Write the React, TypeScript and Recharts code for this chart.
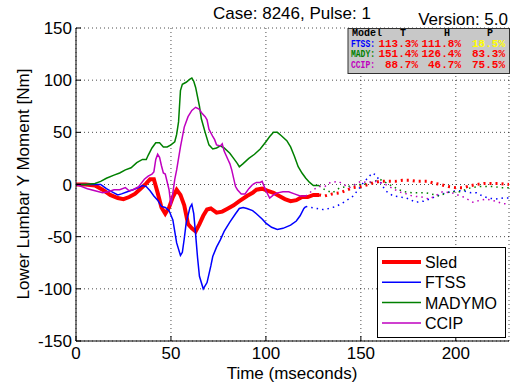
import React from 'react';
import { LineChart, Line, XAxis, YAxis, CartesianGrid } from 'recharts';

// time (ms), moment (Nm); solid = measured window, dotted = tail
const sledSolid: [number, number][] = [
  [0, 0], [5, 0], [10, -1], [14, -5], [18, -10], [22, -13], [25, -14], [28, -12], [31, -9], [34, -4],
  [37, 1], [39, 5], [41, 5], [43, -8], [45, -22], [47, -28], [49, -22], [51, -12], [53, -5], [55, -10],
  [57, -20], [59, -38], [61, -42], [63, -45], [65, -38], [67, -30], [69, -24], [71, -23], [74, -27],
  [77, -26], [80, -23], [83, -20], [86, -16], [90, -11], [93, -8], [95, -5], [98, -4], [101, -6],
  [104, -8], [107, -11], [110, -14], [113, -16], [116, -15], [119, -12], [122, -12], [125, -10], [128, -10],
];
const sledDotted: [number, number][] = [
  [128, -10], [131, -11], [135, -9], [139, -8], [143, -5], [146, -3], [150, -2], [154, 0], [157, 2],
  [160, 3], [164, 3], [168, 3], [172, 4], [176, 4], [180, 3], [185, 3], [189, 1], [192, 0], [196, -2],
  [200, -3], [204, -3], [208, -1], [211, 0], [215, 1], [219, 1], [223, 1], [228, 0],
];

const ftssSolid: [number, number][] = [
  [0, 0], [5, 0], [10, 0], [13, 0], [16, -4], [19, -7], [22, -10], [24, -9], [27, -7], [30, -5],
  [33, -3], [35, -1], [37, -2], [39, -6], [41, -11], [43, -15], [45, -21], [47, -22], [49, -25],
  [51, -34], [53, -56], [55, -68], [56, -65], [57, -52], [58, -37], [60, -22], [61, -19], [62, -28],
  [63, -48], [64, -70], [65, -88], [67, -100], [69, -94], [71, -78], [72, -69], [74, -60], [76, -53],
  [78, -45], [81, -36], [84, -28], [86, -23], [88, -22], [90, -23], [93, -25], [95, -28], [98, -33],
  [100, -37], [103, -41], [106, -43], [109, -42], [113, -39], [116, -35], [118, -30], [120, -23], [121, -21],
];
const ftssDotted: [number, number][] = [
  [121, -21], [124, -22], [127, -23], [130, -24], [133, -23], [137, -21], [141, -17], [146, -11],
  [149, -4], [151, 1], [154, 7], [156, 11], [158, 9], [160, 3], [163, -6], [167, -11], [171, -12],
  [174, -13], [179, -17], [183, -16], [186, -14], [190, -11], [193, -9], [197, -7], [200, -6],
  [204, -6], [208, -8], [211, -8], [214, -11], [217, -13], [221, -14], [225, -13], [228, -13],
];

const madySolid: [number, number][] = [
  [0, 0], [5, 0], [10, 1], [13, 3], [16, 6], [20, 9], [23, 11], [26, 14], [29, 16], [32, 21],
  [35, 24], [37, 24], [38, 28], [40, 35], [42, 40], [44, 40], [46, 36], [48, 36], [50, 38], [52, 41],
  [53, 48], [54, 60], [55, 90], [56, 96], [58, 98], [60, 101], [61, 102], [62, 99], [63, 93], [65, 75],
  [66, 63], [68, 50], [70, 38], [72, 34], [74, 35], [76, 37], [78, 35], [81, 30], [83, 25], [85, 20],
  [86, 17], [88, 20], [91, 25], [94, 29], [97, 34], [100, 41], [102, 46], [104, 50], [106, 50],
  [108, 47], [111, 42], [113, 36], [115, 27], [117, 17], [119, 11], [121, 6], [123, 2], [125, -1], [128, -1],
];
const madyDotted: [number, number][] = [
  [128, -1], [131, -5], [135, -8], [139, -3], [143, -2], [147, 0], [151, 0], [155, 2], [160, 5],
  [164, 1], [167, -2], [170, -5], [173, -7], [177, -8], [180, -8], [184, -8], [187, -9], [191, -11],
  [194, -9], [197, -7], [202, -7], [205, -5], [208, -3], [212, -2], [216, -2], [220, -2], [224, -3], [228, -3],
];

const ccipSolid: [number, number][] = [
  [0, 0], [3, -2], [6, -4], [10, -6], [14, -8], [17, -7], [20, -5], [23, -5], [26, -3], [28, -6],
  [30, -5], [33, -2], [36, 5], [38, 8], [40, 10], [41, 12], [42, 24], [43, 29], [44, 26], [45, 18],
  [46, 11], [47, 10], [49, -5], [50, -20], [51, -8], [52, 5], [53, 14], [55, 36], [57, 55], [59, 65],
  [61, 71], [63, 74], [65, 72], [66, 69], [68, 65], [69, 62], [70, 53], [72, 46], [73, 43], [74, 38],
  [76, 37], [77, 39], [78, 32], [80, 24], [81, 20], [82, 14], [84, -2], [85, -5], [87, -9], [89, -9],
  [91, -4], [93, 0], [95, 2], [97, 2], [98, 3], [100, -6], [102, -13], [104, -10], [106, -8], [109, -7],
  [112, -7], [115, -9], [118, -11], [121, -11],
];
const ccipDotted: [number, number][] = [
  [121, -11], [125, -5], [128, -2], [131, -2], [134, 2], [138, 3], [141, 0], [144, -3], [147, 0],
  [150, 3], [153, 2], [158, 3], [162, 1], [165, -2], [170, -7], [174, -9], [177, -11], [182, -12],
  [186, -14], [190, -10], [193, -7], [198, -8], [201, -10], [204, -12], [207, -15], [209, -17],
  [213, -15], [216, -14], [221, -16], [224, -18], [228, -19],
];

const xTicks = [0, 50, 100, 150, 200];
const yTicks = [-150, -100, -50, 0, 50, 100, 150];

// score table
const tableModels = ['FTSS', 'MADY', 'CCIP'];
const tableT = ['113.3%', '151.4%', '88.7%'];
const tableH = ['111.8%', '126.4%', '46.7%'];
const tableP = ['18.5%', '83.3%', '75.5%'];
const tablePColors = ['#ffff00', '#ff0000', '#ff0000'];

const series = [
  { name: 'Sled', color: '#ff0000', width: 4, solid: sledSolid, dotted: sledDotted },
  { name: 'FTSS', color: '#0000ff', width: 1.5, solid: ftssSolid, dotted: ftssDotted },
  { name: 'MADYMO', color: '#008000', width: 1.5, solid: madySolid, dotted: madyDotted },
  { name: 'CCIP', color: '#bf00bf', width: 1.5, solid: ccipSolid, dotted: ccipDotted },
];
const modelColors = ['#0000ff', '#008000', '#bf00bf'];

const toRows = (pts: [number, number][]) => pts.map(([t, v]) => ({ t, v }));

const FONT = '"Liberation Sans", Arial, Helvetica, sans-serif';
const MONO = '"Liberation Mono", "Courier New", monospace';

export default function App() {
  return (
    <div style={{ position: 'absolute', left: 0, top: 0, width: 515, height: 387, background: '#fff', fontFamily: FONT }}>
      <LineChart width={515} height={387} margin={{ top: 28, right: 6, bottom: 0, left: 0 }} style={{ fontFamily: FONT }}>
        <CartesianGrid stroke="#000" strokeDasharray="1 3" strokeOpacity={0.7} />
        <XAxis
          dataKey="t"
          type="number"
          domain={[0, 228]}
          ticks={xTicks}
          allowDataOverflow
          height={46}
          stroke="#000"
          tickSize={-5}
          tickMargin={11}
          tick={{ fontSize: 17, fill: '#000' }}
        />
        <XAxis xAxisId="top" orientation="top" dataKey="t" type="number" domain={[0, 228]} ticks={xTicks}
          allowDataOverflow height={0} stroke="#000" tickSize={-5} tick={false} />
        <YAxis
          type="number"
          domain={[-150, 150]}
          ticks={yTicks}
          allowDataOverflow
          width={76}
          stroke="#000"
          tickSize={-5}
          tickMargin={9}
          tick={{ fontSize: 17, fill: '#000' }}
        />
        <YAxis yAxisId="right" orientation="right" type="number" domain={[-150, 150]} ticks={yTicks}
          allowDataOverflow width={0} stroke="#000" tickSize={-5} tick={false} />
        {series.map((s) => (
          <Line
            key={s.name}
            data={toRows(s.solid)}
            dataKey="v"
            name={s.name}
            type="linear"
            stroke={s.color}
            strokeWidth={s.width}
            dot={false}
            isAnimationActive={false}
          />
        ))}
        {series.map((s) => (
          <Line
            key={s.name + '-tail'}
            data={toRows(s.dotted)}
            dataKey="v"
            name={s.name + ' tail'}
            type="linear"
            stroke={s.color}
            strokeWidth={s.width === 4 ? 3 : 1.5}
            strokeDasharray={s.width === 4 ? '2 4' : '1.5 4'}
            dot={false}
            isAnimationActive={false}
          />
        ))}
      </LineChart>
      <svg width={515} height={387} style={{ position: 'absolute', left: 0, top: 0, pointerEvents: 'none' }}>
        <text x={292} y={19} fontSize={17} textAnchor="middle" fill="#000">Case: 8246, Pulse: 1</text>
        <text x={508} y={25} fontSize={17} textAnchor="end" fill="#000">Version: 5.0</text>
        <text x={292} y={379} fontSize={17} textAnchor="middle" fill="#000">Time (mseconds)</text>
        <text x={29} y={184} fontSize={17} textAnchor="middle" fill="#000" transform="rotate(-90 29 184)">
          Lower Lumbar Y Moment [Nm]
        </text>

        {/* score table */}
        <defs>
          <clipPath id="tbl">
            <rect x={348} y={29} width={162} height={45} />
          </clipPath>
        </defs>
        <rect x={348} y={28.5} width={161.5} height={45} fill="#c8c8c8" stroke="#303030" strokeWidth={1} />
        <g clipPath="url(#tbl)" fontFamily={MONO} fontWeight="bold" fontSize={11}>
          <text x={352} y={36} fontSize={10} fill="#000">Model</text>
          <text x={403} y={36} fontSize={10} fill="#000" textAnchor="middle">T</text>
          <text x={447} y={36} fontSize={10} fill="#000" textAnchor="middle">H</text>
          <text x={490} y={36} fontSize={10} fill="#000" textAnchor="middle">P</text>
          {tableModels.map((m, i) => {
            const y = 46.5 + i * 10.5;
            return (
              <g key={m}>
                <text x={351} y={y} fontSize={10} fill={modelColors[i]} textLength={24} lengthAdjust="spacingAndGlyphs">{m + ':'}</text>
                <text x={418} y={y} fill="#ff0000" textAnchor="end">{tableT[i]}</text>
                <text x={461} y={y} fill="#ff0000" textAnchor="end">{tableH[i]}</text>
                <text x={505} y={y} fill={tablePColors[i]} textAnchor="end">{tableP[i]}</text>
              </g>
            );
          })}
        </g>

        {/* legend */}
        <rect x={377.5} y={247.5} width={128} height={90} fill="#fff" stroke="#000" strokeWidth={1} />
        {series.map((s, i) => {
          const cy = 262 + i * 20.3;
          return (
            <g key={s.name}>
              <line x1={382} x2={421} y1={cy} y2={cy} stroke={s.color} strokeWidth={s.width === 4 ? 4 : 1.5} />
              <text x={425} y={cy + 6} fontSize={16} fill="#000">{s.name}</text>
            </g>
          );
        })}
      </svg>
    </div>
  );
}
